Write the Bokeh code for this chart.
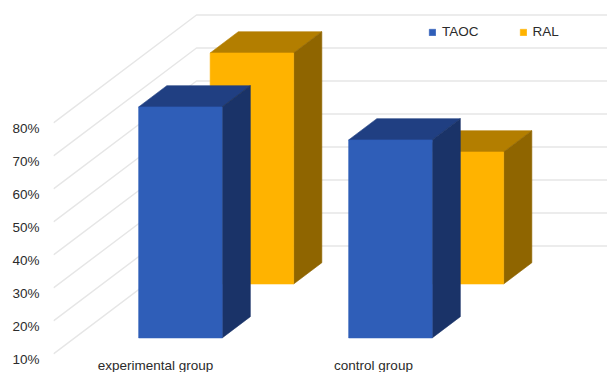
from bokeh.embed import file_html
from bokeh.models import FixedTicker, Legend, LegendItem, LinearAxis, Range1d
from bokeh.plotting import figure
from bokeh.resources import INLINE

# Chart data
categories = ["experimental group", "control group"]
taoc = [80, 70]
ral = [80, 50]
value_ticks = [10, 20, 30, 40, 50, 60, 70, 80]

# Colours of each bar face: front, top, side
TAOC_FACES = ("#2F5EB8", "#203F82", "#1A3368")
RAL_FACES = ("#FFB300", "#B37E00", "#8F6500")
GRID = "#E6E6E6"
TEXT = "#2B2B2B"
FONT = "Liberation Sans"

# Oblique projection: how far the back wall shifts in x and in value units
WALL_DX = 143.0
WALL_DY = 32.7
PX_PER_UNIT = 3.3
BAR_WIDTH = 83.5
BAR_DEPTH = 0.197
BASE = 10
GROUP_LEFT = [117.0, 327.0]
LABEL_X = [155, 373]
TAOC_DEPTH = 0.148
RAL_DEPTH = 0.648


def project(x, depth, v):
    return x + depth * WALL_DX, v + depth * WALL_DY


def face(points):
    xy = [project(*pt) for pt in points]
    return [a for a, _ in xy], [b for _, b in xy]


def bar_faces(left, depth, v):
    """Return front, top and side polygons of one bar."""
    right = left + BAR_WIDTH
    back = depth + BAR_DEPTH
    front = face([(left, depth, BASE), (right, depth, BASE), (right, depth, v), (left, depth, v)])
    top = face([(left, depth, v), (right, depth, v), (right, back, v), (left, back, v)])
    side = face([(right, depth, BASE), (right, back, BASE), (right, back, v), (right, depth, v)])
    return front, top, side


frame_w, frame_h = 554, 360
y_bottom = BASE - 6.6 / PX_PER_UNIT
y_top = BASE + 353.4 / PX_PER_UNIT

p = figure(
    width=607, height=372, frame_width=frame_w, frame_height=frame_h,
    x_range=Range1d(53, 607), y_range=Range1d(y_bottom, y_top),
    output_backend="svg", toolbar_location=None,
    min_border_left=53, min_border_right=0, min_border_top=0, min_border_bottom=0,
    x_axis_location="below", y_axis_location=None,
    background_fill_color="white", border_fill_color="white", outline_line_color=None,
)
p.xgrid.visible = False
p.ygrid.visible = False

# Grid: up the side wall, then along the back wall
for v in value_ticks:
    bx, by = project(53, 1, v)
    p.line([53, bx, 607], [v, by, by], line_color=GRID, line_width=1.4)


def draw_bar(left, depth, v, faces):
    front, top, side = bar_faces(left, depth, v)
    p.patch(*top, fill_color=faces[1], line_color=faces[1], line_width=0.6)
    p.patch(*side, fill_color=faces[2], line_color=faces[2], line_width=0.6)
    return p.patch(*front, fill_color=faces[0], line_color=faces[0], line_width=0.6)


ral_marks = [draw_bar(GROUP_LEFT[i], RAL_DEPTH, ral[i], RAL_FACES) for i in range(len(categories))]
taoc_marks = [draw_bar(GROUP_LEFT[i], TAOC_DEPTH, taoc[i], TAOC_FACES) for i in range(len(categories))]

# Value labels sit slightly below the front end of their grid lines
p.extra_y_ranges = {"labels": Range1d(BASE - 1 / PX_PER_UNIT, BASE + 359 / PX_PER_UNIT)}
value_axis = LinearAxis(
    y_range_name="labels",
    ticker=FixedTicker(ticks=value_ticks),
    major_label_overrides={v: f"{v}%" for v in value_ticks},
    axis_line_color=None, major_tick_line_color=None, minor_tick_line_color=None,
    major_tick_in=0, major_tick_out=0, minor_tick_in=0, minor_tick_out=0,
    major_label_standoff=14,
    major_label_text_font=FONT, major_label_text_font_size="13.5px",
    major_label_text_color=TEXT,
)
p.add_layout(value_axis, "left")

x_axis = p.xaxis[0]
x_axis.ticker = FixedTicker(ticks=LABEL_X)
x_axis.major_label_overrides = dict(zip(LABEL_X, categories))
x_axis.axis_line_color = None
x_axis.major_tick_line_color = None
x_axis.minor_tick_line_color = None
x_axis.major_tick_in = 0
x_axis.major_tick_out = 0
x_axis.major_label_standoff = -3
x_axis.major_label_text_font = FONT
x_axis.major_label_text_font_size = "13.5px"
x_axis.major_label_text_color = TEXT

legend = Legend(
    items=[
        LegendItem(label="TAOC", renderers=[taoc_marks[0]]),
        LegendItem(label="RAL", renderers=[ral_marks[0]]),
    ],
    orientation="horizontal", location=(375, 321),
    background_fill_alpha=0, border_line_color=None,
    glyph_width=8, glyph_height=8, spacing=40, padding=0, margin=0,
    label_standoff=6, label_text_font=FONT, label_text_font_size="13.5px",
    label_text_color=TEXT,
)
p.add_layout(legend, "center")

open("out.html", "w").write(file_html(p, INLINE))
